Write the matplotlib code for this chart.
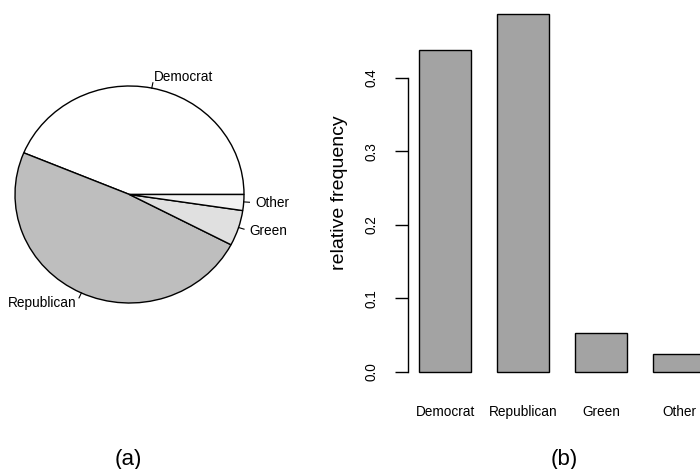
import numpy as np
import matplotlib
matplotlib.use('Agg')
import matplotlib.pyplot as plt

plt.rcParams['font.family'] = ['Liberation Sans', 'DejaVu Sans']

parties = ['Democrat', 'Republican', 'Green', 'Other']
rel_freq = [0.4377, 0.4866, 0.0530, 0.0237]
pie_colors = ['#FFFFFF', '#BEBEBE', '#E0E0E0', '#F2F2F2']
bar_color = '#A3A3A3'
yticks = [0.0, 0.1, 0.2, 0.3, 0.4]

W, H = 700, 469
fig = plt.figure(figsize=(W / 100, H / 100), dpi=100)

# ---- (a) pie, R style: counter-clockwise from 0 degrees ----
cx, cy, rx, ry = 129.5, 194.5, 114.5, 108.5   # pixel centre and radii
ax1 = fig.add_axes([0, 0, 1, 1])
ax1.pie(rel_freq, colors=pie_colors, startangle=0, counterclock=True,
        wedgeprops=dict(edgecolor='black', linewidth=1.0),
        labels=parties, labeldistance=1.1,
        textprops=dict(fontsize=9.8))
ax1.set_aspect('auto')
ax1.set_xlim(-cx / rx, (W - cx) / rx)
ax1.set_ylim(-(H - cy) / ry, cy / ry)
ax1.axis('off')

# little tick lines from the rim to the labels
cum = np.cumsum([0] + rel_freq)
mids = 2 * np.pi * (cum[:-1] + cum[1:]) / 2
for a in mids:
    ax1.plot([np.cos(a), 1.05 * np.cos(a)], [np.sin(a), 1.05 * np.sin(a)],
             color='black', lw=0.8)

# ---- (b) barplot (R barplot, space=0.5) ----
ax2 = fig.add_axes([407.6 / W, 1 - 386 / H, 308.9 / W, 386 / H])
xpos = 0.5 + 1.5 * np.arange(len(parties)) + 0.5
ax2.bar(xpos, rel_freq, width=1.0, color=bar_color, edgecolor='black', linewidth=1.0)
ax2.set_xlim(0.28, 6.22)
ax2.set_ylim(-0.0195, 0.506)
ax2.set_xticks(xpos)
ax2.set_xticklabels(parties, fontsize=9.8)
ax2.tick_params(axis='x', length=0, pad=14)
ax2.set_yticks(yticks)
ax2.set_yticklabels([f'{v:.1f}' for v in yticks], rotation=90, va='center', fontsize=9.8)
ax2.tick_params(axis='y', length=9.3, width=1.0, pad=12)
for s in ['top', 'right', 'bottom']:
    ax2.spines[s].set_visible(False)
ax2.spines['left'].set_bounds(0, 0.4)
ax2.spines['left'].set_linewidth(1.0)
ax2.set_ylabel('relative frequency', fontsize=14)
ax2.yaxis.set_label_coords((348 - 407.6) / 308.9, 0.5)

fig.text(128.5 / W, 1 - 459 / H, '(a)', ha='center', va='center', fontsize=16)
fig.text(564 / W, 1 - 459 / H, '(b)', ha='center', va='center', fontsize=16)

fig.savefig('out.png', dpi=100)
